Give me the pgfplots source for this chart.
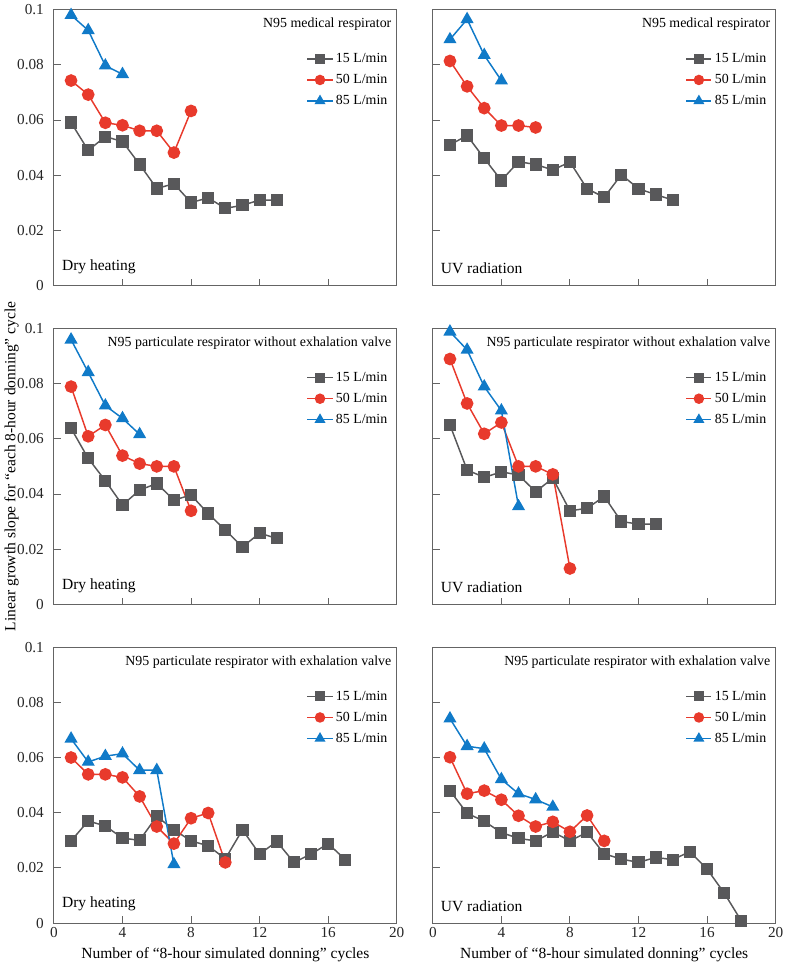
\documentclass[border=0pt]{standalone}
\usepackage{pgfplots}
\pgfplotsset{compat=1.18}
\usepgfplotslibrary{groupplots}
\usepackage{fontspec}
\setmainfont{Liberation Serif}
\definecolor{cg}{RGB}{88,88,90}
\definecolor{cr}{RGB}{232,58,44}
\definecolor{cb}{RGB}{16,122,200}
\definecolor{ax}{RGB}{100,100,100}
\pgfplotsset{
  myax/.style={
    scale only axis, width=256.5pt, height=206.5pt,
    xmin=0, xmax=20, ymin=0, ymax=0.1,
    xtick={0,4,8,12,16,20}, ytick={0,0.02,0.04,0.06,0.08,0.1},
    scaled y ticks=false,
    yticklabel style={/pgf/number format/fixed,/pgf/number format/precision=2, xshift=-4pt},
    /pgf/number format/assume math mode=true,
    tick align=inside, xtick pos=bottom, ytick pos=left,
    major tick length=5pt,
    axis line style={ax, line width=0.7pt},
    every tick/.style={ax, line width=0.7pt},
    tick label style={font=\fontsize{11.4}{13}\selectfont, text=black!85},
    label style={font=\fontsize{11.6}{13}\selectfont},
    legend style={draw=none, fill=none, at={(0.985,0.857)}, anchor=north east,
      font=\fontsize{10.4}{12}\selectfont, row sep=3.3pt, inner sep=1pt},
    legend cell align=left,
    legend image code/.code={
      \draw[mark repeat=2,mark phase=2,#1, every mark/.append style={scale=0.8}] plot coordinates {(0cm,0cm) (0.33cm,0cm) (0.66cm,0cm)};},
  },
  sg/.style={cg, line width=1.1pt, mark=square*, mark size=4pt, mark options={solid}},
  sr/.style={cr, line width=1.1pt, mark=*, mark size=4.2pt},
  sb/.style={cb, line width=1.1pt, mark=triangle*, mark size=4.6pt},
}
\newcommand{\anno}[2]{%
  \node[anchor=north east, font=\fontsize{10.4}{12}\selectfont, inner sep=0pt] at (rel axis cs:0.985,0.97) {#1};
  \node[anchor=south west, font=\fontsize{11.6}{13}\selectfont, inner sep=0pt] at (rel axis cs:0.023,0.042) {#2};}
\begin{document}
\begin{tikzpicture}
\begin{groupplot}[group style={group size=2 by 3, horizontal sep=27pt, vertical sep=32pt,
    xticklabels at=edge bottom, yticklabels at=edge left}, myax]
% Top-left
\nextgroupplot
\addplot[sg] coordinates {(1,0.0591)(2,0.0490)(3,0.0540)(4,0.0522)(5,0.0439)(6,0.0352)(7,0.0369)(8,0.0301)(9,0.0318)(10,0.0280)(11,0.0291)(12,0.0310)(13,0.0310)};
\addplot[sr] coordinates {(1,0.0743)(2,0.0692)(3,0.0590)(4,0.0581)(5,0.0561)(6,0.0561)(7,0.0482)(8,0.0633)};
\addplot[sb] coordinates {(1,0.0980)(2,0.0925)(3,0.0797)(4,0.0766)};
\legend{15 L/min, 50 L/min, 85 L/min}
\anno{N95 medical respirator}{Dry heating}
% Top-right
\nextgroupplot
\addplot[sg] coordinates {(1,0.0510)(2,0.0544)(3,0.0461)(4,0.0381)(5,0.0449)(6,0.0439)(7,0.0419)(8,0.0448)(9,0.0351)(10,0.0320)(11,0.0402)(12,0.0351)(13,0.0330)(14,0.0310)};
\addplot[sr] coordinates {(1,0.0814)(2,0.0722)(3,0.0643)(4,0.0580)(5,0.0580)(6,0.0573)};
\addplot[sb] coordinates {(1,0.0892)(2,0.0965)(3,0.0835)(4,0.0743)};
\legend{15 L/min, 50 L/min, 85 L/min}
\anno{N95 medical respirator}{UV radiation}
% Middle-left
\nextgroupplot[ylabel={Linear growth slope for “each 8-hour donning” cycle}, ylabel shift=-8pt]
\addplot[sg] coordinates {(1,0.0638)(2,0.0529)(3,0.0448)(4,0.0360)(5,0.0414)(6,0.0438)(7,0.0378)(8,0.0396)(9,0.0329)(10,0.0269)(11,0.0208)(12,0.0258)(13,0.0239)};
\addplot[sr] coordinates {(1,0.0789)(2,0.0609)(3,0.0650)(4,0.0539)(5,0.0510)(6,0.0500)(7,0.0500)(8,0.0339)};
\addplot[sb] coordinates {(1,0.0959)(2,0.0841)(3,0.0720)(4,0.0674)(5,0.0616)};
\legend{15 L/min, 50 L/min, 85 L/min}
\anno{N95 particulate respirator without exhalation valve}{Dry heating}
% Middle-right
\nextgroupplot
\addplot[sg] coordinates {(1,0.0650)(2,0.0487)(3,0.0460)(4,0.0480)(5,0.0469)(6,0.0408)(7,0.0457)(8,0.0339)(9,0.0348)(10,0.0391)(11,0.0300)(12,0.0291)(13,0.0291)};
\addplot[sr] coordinates {(1,0.0889)(2,0.0728)(3,0.0618)(4,0.0659)(5,0.0500)(6,0.0500)(7,0.0471)(8,0.0130)};
\addplot[sb] coordinates {(1,0.0988)(2,0.0922)(3,0.0789)(4,0.0702)(5,0.0355)};
\legend{15 L/min, 50 L/min, 85 L/min}
\anno{N95 particulate respirator without exhalation valve}{UV radiation}
% Bottom-left
\nextgroupplot[xlabel={Number of “8-hour simulated donning” cycles}]
\addplot[sg] coordinates {(1,0.0298)(2,0.0370)(3,0.0352)(4,0.0308)(5,0.0300)(6,0.0387)(7,0.0338)(8,0.0298)(9,0.0280)(10,0.0233)(11,0.0338)(12,0.0250)(13,0.0296)(14,0.0220)(15,0.0250)(16,0.0288)(17,0.0230)};
\addplot[sr] coordinates {(1,0.0600)(2,0.0539)(3,0.0539)(4,0.0528)(5,0.0459)(6,0.0350)(7,0.0288)(8,0.0380)(9,0.0399)(10,0.0220)};
\addplot[sb] coordinates {(1,0.0668)(2,0.0584)(3,0.0605)(4,0.0614)(5,0.0554)(6,0.0554)(7,0.0213)};
\legend{15 L/min, 50 L/min, 85 L/min}
\anno{N95 particulate respirator with exhalation valve}{Dry heating}
% Bottom-right
\nextgroupplot[xlabel={Number of “8-hour simulated donning” cycles}]
\addplot[sg] coordinates {(1,0.0480)(2,0.0398)(3,0.0369)(4,0.0328)(5,0.0307)(6,0.0298)(7,0.0330)(8,0.0298)(9,0.0329)(10,0.0251)(11,0.0232)(12,0.0220)(13,0.0238)(14,0.0230)(15,0.0259)(16,0.0196)(17,0.0109)(18,0.0008)};
\addplot[sr] coordinates {(1,0.0601)(2,0.0469)(3,0.0480)(4,0.0447)(5,0.0389)(6,0.0350)(7,0.0367)(8,0.0331)(9,0.0390)(10,0.0298)};
\addplot[sb] coordinates {(1,0.0741)(2,0.0641)(3,0.0632)(4,0.0521)(5,0.0469)(6,0.0448)(7,0.0421)};
\legend{15 L/min, 50 L/min, 85 L/min}
\anno{N95 particulate respirator with exhalation valve}{UV radiation}
\end{groupplot}
\end{tikzpicture}
\end{document}
